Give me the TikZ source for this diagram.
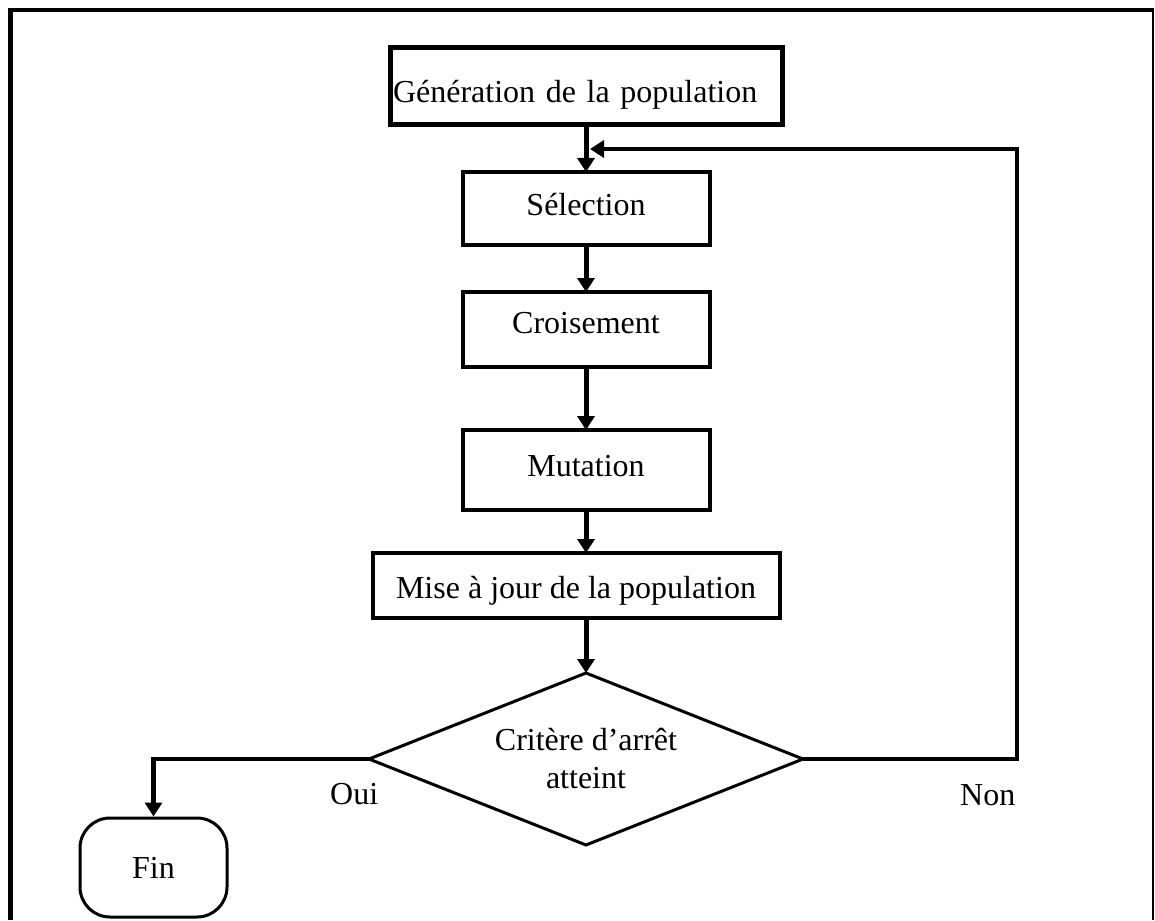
\documentclass[tikz,border=0pt]{standalone}
\usepackage{fontspec}
\setmainfont{Liberation Serif}
\usetikzlibrary{shapes.geometric, arrows.meta, positioning}

\begin{document}
\begin{tikzpicture}[x=1pt, y=-1pt, node distance=47pt, >={Triangle[width=17pt,length=14pt]}]
  \tikzstyle{etape}=[rectangle, draw, line width=4pt, fill=white, outer sep=0pt,
                     font=\fontsize{32}{38}\selectfont, text height=22pt,
                     text depth=9pt, inner sep=0pt]
  \tikzstyle{fleche}=[->, line width=5pt]
  \tikzstyle{etiq}=[font=\fontsize{32}{38}\selectfont, anchor=base west, inner sep=0pt]
  \useasboundingbox (0,0) rectangle (1155,920);
  % cadre
  \draw[line width=5pt] (10,920) -- (10,8);
  \draw[line width=4pt] (8,10) -- (1154,10);
  \draw[line width=2pt] (1153,10) -- (1153,920);
  % etapes
  \node[etape, line width=5pt, minimum width=392pt, minimum height=77pt, text width=386pt,
        align=left, text height=36pt, text depth=3pt](gen) at (586,86.5){Génération de la population};
  \node[etape, minimum width=247pt, minimum height=73pt, below=of gen](sel){Sélection};
  \node[etape, minimum width=247pt, minimum height=75pt, text depth=14pt,
        below=47pt of sel](cro){Croisement};
  \node[etape, minimum width=247pt, minimum height=80pt, below=63pt of cro](mut){Mutation};
  \node[etape, minimum width=407pt, minimum height=65pt, text height=30pt, text depth=5pt,
        below=43pt of mut, xshift=-10pt](mise){Mise à jour de la population};
  \node[diamond, draw, line width=3pt, aspect=2.52, minimum width=434pt, minimum height=172pt,
        inner sep=0pt, outer sep=0pt, align=center, font=\fontsize{32}{38}\selectfont,
        below=55pt of mise, xshift=10pt](dec){Critère d’arrêt\\atteint};
  \node[rectangle, rounded corners=30pt, draw, line width=3pt, minimum width=147pt,
        minimum height=99pt, font=\fontsize{32}{38}\selectfont](fin) at (153.5,867.5){Fin};
  % fleches
  \draw[fleche](gen)--(sel);
  \draw[fleche](sel)--(cro);
  \draw[fleche](cro)--(mut);
  \draw[fleche](mut.south)--(mut.south |- mise.north);
  \draw[fleche](dec.north |- mise.south)--(dec.north);
  \draw[fleche, line width=4.5pt](dec.west)-|(fin.north);
  \coordinate (coin) at (1017,149);
  \coordinate (retour) at (590,149);
  \draw[->, line width=4pt](dec.east)-|(coin)--(retour);
  % reponses
  \node[etiq](oui) at (330,804){Oui};
  \node[etiq](non) at (960,805){Non};
\end{tikzpicture}
\end{document}
